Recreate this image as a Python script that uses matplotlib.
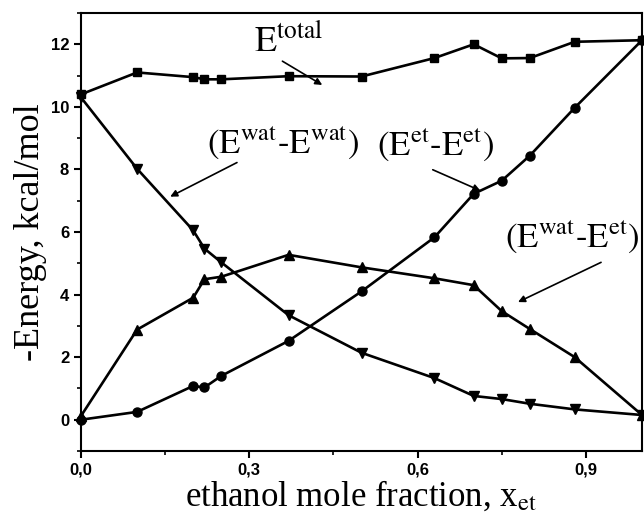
import numpy as np
import matplotlib
matplotlib.use('Agg')
import matplotlib.pyplot as plt
from matplotlib.ticker import MultipleLocator, FuncFormatter

# ethanol mole fraction
x_et = [0.0, 0.1, 0.2, 0.22, 0.25, 0.37, 0.5, 0.63, 0.7, 0.75, 0.8, 0.88, 1.0]

# -Energy, kcal/mol
e_total = [10.4, 11.1, 10.95, 10.88, 10.88, 10.98, 10.97, 11.56, 12.0, 11.55, 11.56, 12.08, 12.13]
e_wat_wat = [10.3, 8.02, 6.05, 5.47, 5.03, 3.34, 2.14, 1.33, 0.76, 0.66, 0.51, 0.33, 0.15]
e_wat_et = [0.12, 2.88, 3.9, 4.49, 4.57, 5.27, 4.87, 4.52, 4.3, 3.47, 2.9, 2.0, 0.15]
e_et_et = [0.0, 0.25, 1.08, 1.03, 1.4, 2.52, 4.1, 5.83, 7.22, 7.64, 8.44, 9.97, 12.13]

xticks = [0.0, 0.3, 0.6, 0.9]
yticks = [0, 2, 4, 6, 8, 10, 12]


def main():
    plt.rcParams['mathtext.fontset'] = 'stix'
    serif = ['Liberation Serif', 'DejaVu Serif']

    fig = plt.figure(figsize=(6.44, 5.2), dpi=100)
    ax = fig.add_axes([0.1258, 0.1327, 0.8711, 0.8423])

    style = dict(color='black', lw=1.9, clip_on=False)
    ax.plot(x_et, e_total, marker='s', ms=6, **style)
    ax.plot(x_et, e_wat_wat, marker='v', ms=7, **style)
    ax.plot(x_et, e_wat_et, marker='^', ms=7, **style)
    ax.plot(x_et, e_et_et, marker='o', ms=6.5, **style)

    ax.set_xlim(0, 1.0)
    ax.set_ylim(-1, 13)
    ax.set_xticks(xticks)
    ax.set_yticks(yticks)
    ax.xaxis.set_minor_locator(MultipleLocator(0.15))
    ax.yaxis.set_minor_locator(MultipleLocator(1))
    ax.xaxis.set_major_formatter(FuncFormatter(lambda v, p: f'{v:.1f}'.replace('.', ',')))
    ax.tick_params(which='major', direction='out', length=5, width=1.5,
                   labelsize=12, labelfontfamily='Liberation Sans')
    ax.tick_params(which='minor', direction='out', length=3, width=1.2)
    for lab in ax.get_xticklabels() + ax.get_yticklabels():
        lab.set_fontweight('bold')
    for sp in ax.spines.values():
        sp.set_linewidth(1.5)

    ax.set_xlabel(r'ethanol mole fraction, x$_{\rm et}$', family=serif,
                  fontsize=25, labelpad=1)
    ax.set_ylabel('-Energy, kcal/mol', family=serif, fontsize=26, labelpad=3)

    arrow = dict(arrowstyle='-|>', color='black', lw=1.2, mutation_scale=10,
                 shrinkA=0, shrinkB=0)
    ax.annotate(r'$\mathrm{E^{total}}$', xy=(0.43, 10.70), xytext=(0.37, 12.1),
                fontsize=26, ha='center', va='center')
    ax.annotate('', xy=(0.43, 10.70), xytext=(0.359, 11.46), arrowprops=arrow)

    ax.annotate(r'$\mathrm{(E^{wat}\text{-}E^{wat})}$', xy=(0.159, 7.13),
                xytext=(0.36, 8.85), fontsize=25, ha='center', va='center')
    ax.annotate('', xy=(0.159, 7.13), xytext=(0.278, 8.22), arrowprops=arrow)

    ax.annotate(r'$\mathrm{(E^{et}\text{-}E^{et})}$', xy=(0.712, 7.32),
                xytext=(0.632, 8.8), fontsize=25, ha='center', va='center')
    ax.annotate('', xy=(0.712, 7.32), xytext=(0.627, 7.99), arrowprops=arrow)

    ax.annotate(r'$\mathrm{(E^{wat}\text{-}E^{et})}$', xy=(0.779, 3.76),
                xytext=(0.876, 5.85), fontsize=25, ha='center', va='center')
    ax.annotate('', xy=(0.779, 3.76), xytext=(0.927, 5.03), arrowprops=arrow)

    fig.savefig('out.png', dpi=100)


if __name__ == '__main__':
    main()
